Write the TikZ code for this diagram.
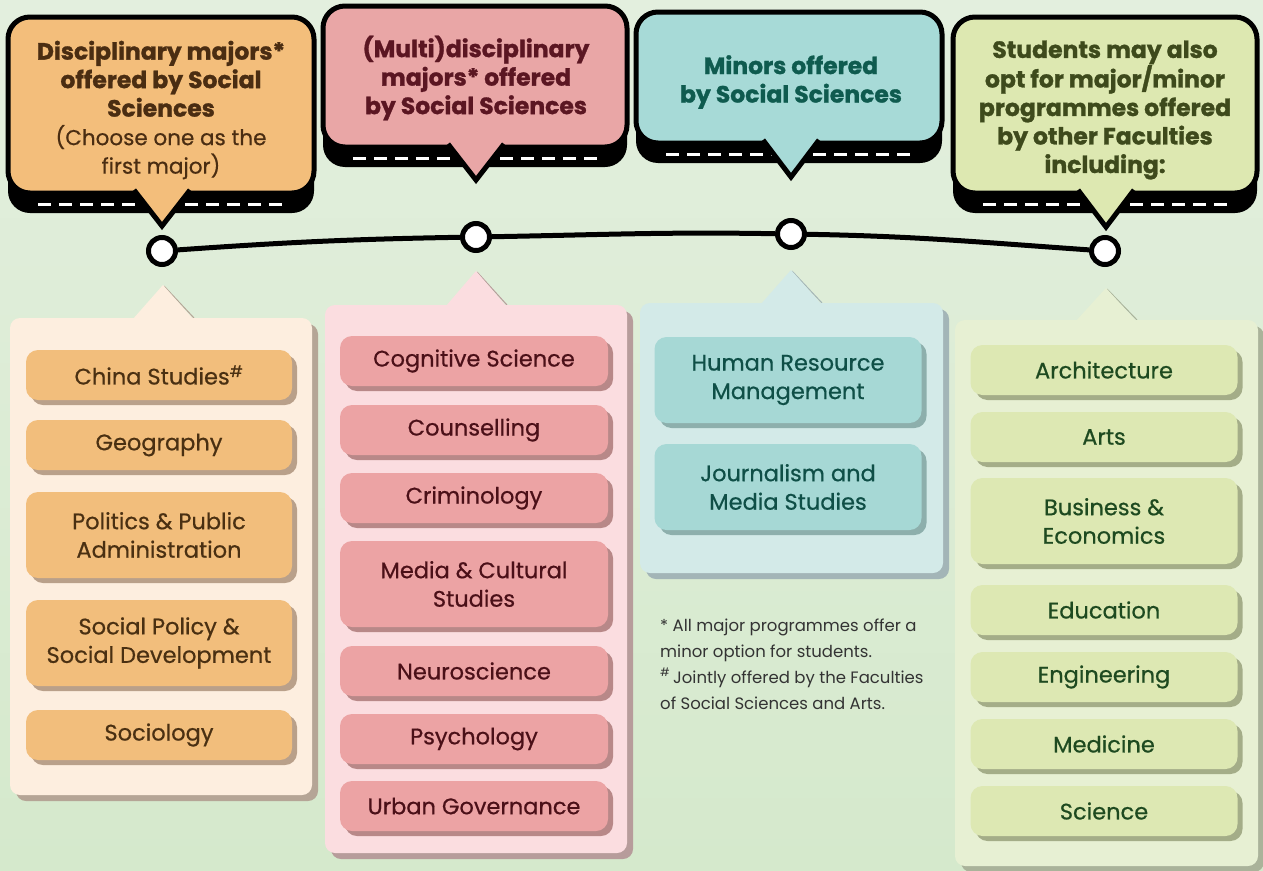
\documentclass[tikz,border=0pt]{standalone}
\usepackage{fontspec}
\setmainfont{Poppins}
\newfontfamily\heavyfont{Poppins}[BoldFeatures={FakeBold=1.2}]
\newfontfamily\itemfont{Poppins}[FakeBold=0.6]
\newcommand\subfont{\fontsize{21.5}{28.5}\selectfont\itemfont\mdseries}
\usetikzlibrary{shadows}

\definecolor{bgtop}{HTML}{E3EFDE}
\definecolor{bgbot}{HTML}{D5E9CC}
% header fills and texts
\definecolor{orH}{HTML}{F3BE7B}
\definecolor{piH}{HTML}{E9A6A6}
\definecolor{teH}{HTML}{A7DAD7}
\definecolor{grH}{HTML}{DDE8B1}
\definecolor{orHT}{HTML}{4A2D12}
\definecolor{piHT}{HTML}{5B1622}
\definecolor{teHT}{HTML}{0F5B4F}
\definecolor{grHT}{HTML}{3E4A1C}
% panels
\definecolor{orP}{HTML}{FDEEDF}
\definecolor{piP}{HTML}{FBDDE0}
\definecolor{teP}{HTML}{D3EAE8}
\definecolor{grP}{HTML}{E7F0D3}
\definecolor{orPS}{HTML}{B5A596}
\definecolor{piPS}{HTML}{B79C9B}
\definecolor{tePS}{HTML}{A3B5B7}
\definecolor{grPS}{HTML}{AAB39A}
% items
\definecolor{orI}{HTML}{F2BE7C}
\definecolor{piI}{HTML}{ECA3A4}
\definecolor{teI}{HTML}{A6D8D5}
\definecolor{grI}{HTML}{DDE8B3}
\definecolor{orIS}{HTML}{B9A08A}
\definecolor{piIS}{HTML}{B88888}
\definecolor{teIS}{HTML}{8DAFAC}
\definecolor{grIS}{HTML}{A4AD88}
\definecolor{orT}{HTML}{4A3012}
\definecolor{piT}{HTML}{4B1018}
\definecolor{teT}{HTML}{0F4F47}
\definecolor{grT}{HTML}{1E4A20}
\definecolor{noteT}{HTML}{333333}

\begin{document}
\begin{tikzpicture}[x=1pt,y=-1pt,
	hdrtext/.style={align=center,font=\fontsize{23.5}{28.5}\selectfont\heavyfont\bfseries},
	dot/.style={shape=circle,draw=black,fill=white,line width=5pt,minimum size=27pt,inner sep=0pt},
	item/.style={rounded corners=12pt,minimum height=50pt,align=center,inner sep=0pt,
		font=\fontsize{22.5}{28.5}\selectfont\itemfont},
	tall/.style={minimum height=86pt},
	oritem/.style={item,fill=orI,text=orT,minimum width=266pt,
		drop shadow={shadow xshift=5pt,shadow yshift=-5pt,fill=orIS,opacity=1}},
	piitem/.style={item,fill=piI,text=piT,minimum width=268pt,
		drop shadow={shadow xshift=5pt,shadow yshift=-5pt,fill=piIS,opacity=1}},
	teitem/.style={item,fill=teI,text=teT,minimum width=267pt,
		drop shadow={shadow xshift=5pt,shadow yshift=-5pt,fill=teIS,opacity=1}},
	gritem/.style={item,fill=grI,text=grT,minimum width=267pt,
		drop shadow={shadow xshift=5pt,shadow yshift=-5pt,fill=grIS,opacity=1}}]

	% background
	\shade[top color=bgtop,bottom color=bgbot] (0,0) rectangle (1263,870);
	\useasboundingbox (0,0) rectangle (1263,870);

	% header bubbles
	\foreach \xa/\ya/\xb/\yb/\yc/\xt/\yt/\col in {
		8/17/314/193/213/162/226/orH,
		323/6/627/147/167/476/180/piH,
		636/12/942/143/163/791/177/teH,
		953/17/1257/193/213/1106/227/grH}{
		\fill[black,rounded corners=22pt] (\xa,\ya+20) rectangle (\xb,\yc);
		\draw[white,line width=3pt,dash pattern=on 13pt off 8pt] (\xa+30,\yc-9) -- (\xb-30,\yc-9);
		\draw[line width=5pt,fill=\col,rounded corners=22pt] (\xa,\ya) rectangle (\xb,\yb);
		\draw[line width=5pt,fill=\col,line join=miter] (\xt-28,\yb-3) -- (\xt,\yt) -- (\xt+28,\yb-3);
	}

	\node[hdrtext,text=orHT] (h1) at (161,110)
		{Disciplinary majors*\\offered by Social\\Sciences\\
		{\subfont (Choose one as the}\\{\subfont first major)}};
	\node[hdrtext,text=piHT] (h2) at (476,78)
		{(Multi)disciplinary\\majors* offered\\by Social Sciences};
	\node[hdrtext,text=teHT] (h3) at (791,82)
		{Minors offered\\by Social Sciences};
	\node[hdrtext,text=grHT] (h4) at (1105,110)
		{Students may also\\opt for major/minor\\programmes offered\\by other Faculties\\including:};

	% timeline
	\node[dot] (d1) at (162,251) {};
	\node[dot] (d2) at (476,237) {};
	\node[dot] (d3) at (791,234) {};
	\node[dot] (d4) at (1105,251) {};
	\draw[line width=5pt] (d1) to[out=4,in=181] (d2);
	\draw[line width=5pt] (d2) to[out=1,in=179] (d3);
	\draw[line width=5pt] (d3) to[out=-1,in=176] (d4);

	% panels
	\foreach \xa/\ya/\xb/\yb/\xt/\yt/\col/\sh in {
		10/318/312/795/163/285/orP/orPS,
		325/305/627/853/476/271/piP/piPS,
		640/303/943/573/791/270/teP/tePS,
		955/320/1258/866/1106/288/grP/grPS}{
		\fill[\sh,rounded corners=10pt] (\xa+6,\ya+6) rectangle (\xb+6,\yb+6);
		\draw[\sh,line width=1pt] (\xt+1,\yt+1) -- (\xt+31,\ya);
		\fill[\col] (\xt-30,\ya+1) -- (\xt,\yt) -- (\xt+30,\ya+1) -- cycle;
		\fill[\col,rounded corners=10pt] (\xa,\ya) rectangle (\xb,\yb);
	}

	% disciplinary majors
	\node[oritem] (chs) at (159,375) {China Studies\textsuperscript{\#}};
	\node[oritem] (geo) at (159,445) {Geography};
	\node[oritem,tall] (ppa) at (159,535) {Politics \& Public\\Administration};
	\node[oritem,tall] (spd) at (159,643) {Social Policy \&\\Social Development};
	\node[oritem] (soc) at (159,735) {Sociology};

	% multidisciplinary majors
	\node[piitem] (cog) at (474,361) {Cognitive Science};
	\node[piitem] (cou) at (474,430) {Counselling};
	\node[piitem] (cri) at (474,498) {Criminology};
	\node[piitem,tall] (mcs) at (474,584) {Media \& Cultural\\Studies};
	\node[piitem] (neu) at (474,671) {Neuroscience};
	\node[piitem] (psy) at (474,739) {Psychology};
	\node[piitem] (urb) at (474,806) {Urban Governance};

	% minors
	\node[teitem,tall] (hrm) at (788,380) {Human Resource\\Management};
	\node[teitem,tall] (jms) at (788,487) {Journalism and\\Media Studies};

	% other faculties
	\node[gritem] (arc) at (1104,370) {Architecture};
	\node[gritem] (art) at (1104,437) {Arts};
	\node[gritem,tall] (bus) at (1104,521) {Business \&\\Economics};
	\node[gritem] (edu) at (1104,610) {Education};
	\node[gritem] (eng) at (1104,677) {Engineering};
	\node[gritem] (med) at (1104,744) {Medicine};
	\node[gritem] (sci) at (1104,811) {Science};

	% notes
	\node[anchor=west,align=left,text=noteT,inner sep=0pt,
		font=\fontsize{16.5}{26}\selectfont] (note) at (660,664)
		{* All major programmes offer a\\minor option for students.\\
		\textsuperscript{\#}\,Jointly offered by the Faculties\\of Social Sciences and Arts.};

\end{tikzpicture}
\end{document}
